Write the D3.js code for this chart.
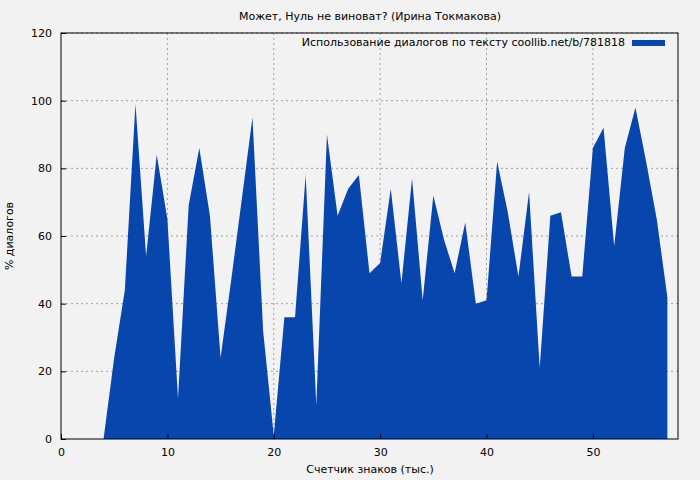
<!DOCTYPE html>
<html><head><meta charset="utf-8">
<script src="https://cdn.jsdelivr.net/npm/d3@7"></script>
<style>body{margin:0;background:#f2f2f2}svg{display:block}text{font-family:"DejaVu Sans",sans-serif;font-size:11px;fill:#000}</style>
</head><body><svg id="c" width="700" height="480"></svg>
<script>
const xs = [4,5,6,7,8,9,10,11,12,13,14,15,16,17,18,19,20,21,22,23,24,25,26,27,28,29,30,31,32,33,34,35,36,37,38,39,40,41,42,43,44,45,46,47,48,49,50,51,52,53,54,55,56,57];
const vals = [0,24,44,99,54,84,65,12,69,86,66,24,47,71,95,32,1,36,36,78,10,90,66,74,78,49,52,74,46,77,41,72,59,49,64,40,41,82,67,48,73,21,66,67,48,48,86,92,57,86,98,82,65,42];
const xTicks = [0,10,20,30,40,50];
const yTicks = [0,20,40,60,80,100,120];
const title = "Может, Нуль не виноват? (Ирина Токмакова)";
const legendLabel = "Использование диалогов по тексту coollib.net/b/781818";

const svg = d3.select("#c");
const L=61,R=678,T=33,B=439;
const x=d3.scaleLinear().domain([0,58]).range([L,R]);
const y=d3.scaleLinear().domain([0,120]).range([B,T]);
const g=svg.append("g");
// grid
g.selectAll(".gx").data(xTicks.slice(1)).join("line").attr("x1",d=>x(d)).attr("x2",d=>x(d)).attr("y1",T).attr("y2",B)
 .attr("stroke","#a0a0a0").attr("stroke-dasharray","2,3");
g.selectAll(".gy").data(yTicks.slice(1)).join("line").attr("x1",L).attr("x2",R).attr("y1",d=>y(d)).attr("y2",d=>y(d))
 .attr("stroke","#a0a0a0").attr("stroke-dasharray","2,3");
const data=xs.map((d,i)=>[d,vals[i]]);
g.append("path").datum(data).attr("fill","#0646ad")
 .attr("d",d3.area().x(d=>x(d[0])).y0(B).y1(d=>y(d[1])));
// frame
g.append("rect").attr("x",L).attr("y",T).attr("width",R-L).attr("height",B-T).attr("fill","none").attr("stroke","#000");
const xa=svg.append("g").attr("transform",`translate(0,${B})`).call(d3.axisBottom(x).tickValues(xTicks).tickSize(-5).tickPadding(9));
const ya=svg.append("g").attr("transform",`translate(${L},0)`).call(d3.axisLeft(y).tickValues(yTicks).tickSize(-5).tickPadding(9));
[xa,ya].forEach(a=>{a.select(".domain").remove();a.selectAll("text").style("font-family","DejaVu Sans").style("font-size","11px");});
svg.append("text").attr("x",370).attr("y",20).attr("text-anchor","middle").text(title);
svg.append("text").attr("x",370).attr("y",473).attr("text-anchor","middle").text("Счетчик знаков (тыс.)");
svg.append("text").attr("transform","translate(13,236) rotate(-90)").attr("text-anchor","middle").text("% диалогов");
svg.append("text").attr("x",625).attr("y",46).attr("text-anchor","end").text(legendLabel);
svg.append("rect").attr("x",632).attr("y",40).attr("width",33).attr("height",6).attr("fill","#0646ad");
</script></body></html>
